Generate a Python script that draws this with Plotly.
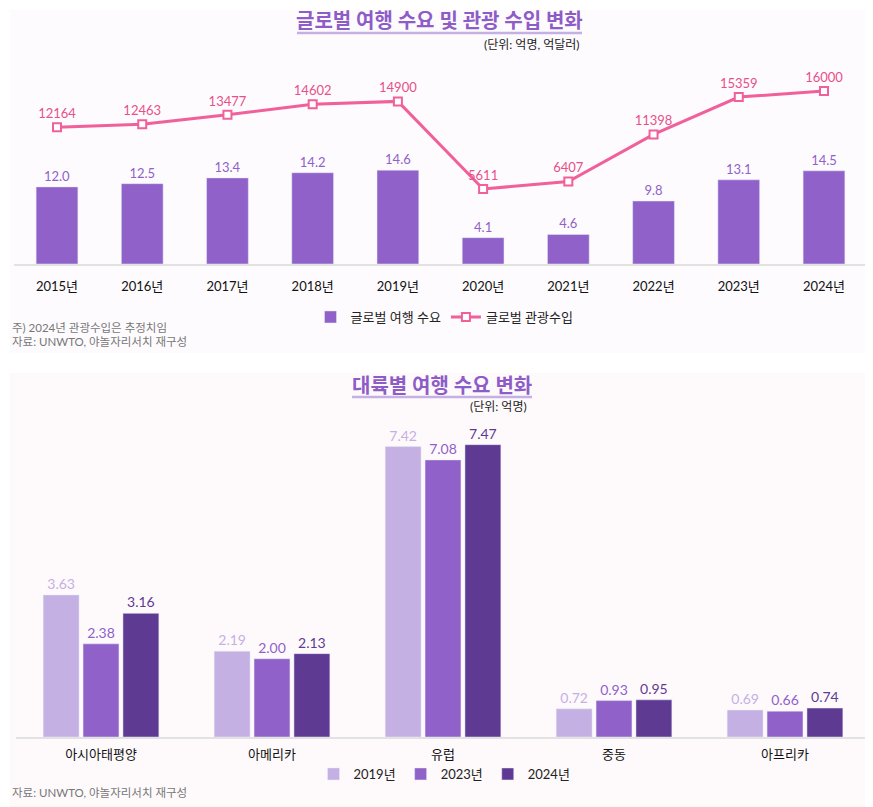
import plotly.graph_objects as go

years = ['2015년', '2016년', '2017년', '2018년', '2019년',
         '2020년', '2021년', '2022년', '2023년', '2024년']
demand = [12.0, 12.5, 13.4, 14.2, 14.6, 4.1, 4.6, 9.8, 13.1, 14.5]
receipts = [12164, 12463, 13477, 14602, 14900, 5611, 6407, 11398, 15359, 16000]

regions = ['아시아태평양', '아메리카', '유럽', '중동', '아프리카']
series_names = ['2019년', '2023년', '2024년']
region_values = [
    [3.63, 2.19, 7.42, 0.72, 0.69],
    [2.38, 2.00, 7.08, 0.93, 0.66],
    [3.16, 2.13, 7.47, 0.95, 0.74],
]

W, H = 873, 807
OFF = 8  # page sits 8px in from the window edge
PURPLE = '#9061c9'
PINK = '#f0609a'
region_colors = ['#c5b0e3', '#9061c9', '#5e3a93']
FONT = 'Lato, Noto Sans CJK KR, sans-serif'


# helpers: screen pixel -> paper fraction
def px_x(v):
    return (v - OFF) / W


def px_y(v):
    return 1 - (v - OFF) / H


fig = go.Figure()

# top chart: bars + line on second y axis
fig.add_trace(go.Bar(
    x=years, y=demand, name='글로벌 여행 수요', marker_color=PURPLE,
    width=0.49,
    text=[f'{v:.1f}' for v in demand], textposition='outside',
    textfont=dict(color=PURPLE, size=13), cliponaxis=False,
    xaxis='x', yaxis='y', legend='legend'))
fig.add_trace(go.Scatter(
    x=years, y=receipts, name='글로벌 관광수입', mode='lines+markers+text',
    line=dict(color=PINK, width=3),
    marker=dict(symbol='square', size=8, color='white',
                line=dict(color=PINK, width=2)),
    text=[str(v) for v in receipts], textposition='top center',
    textfont=dict(color='#e8508a', size=13), cliponaxis=False,
    xaxis='x', yaxis='y2', legend='legend'))

# bottom chart: grouped bars
for name, vals, col in zip(series_names, region_values, region_colors):
    fig.add_trace(go.Bar(
        x=regions, y=vals, name=name, marker_color=col,
        text=[f'{v:.2f}' for v in vals], textposition='outside',
        textfont=dict(color=col, size=14), cliponaxis=False,
        xaxis='x2', yaxis='y3', legend='legend2'))

fig.update_layout(
    width=W, height=H,
    margin=dict(l=0, r=0, t=0, b=0),
    paper_bgcolor='white', plot_bgcolor='rgba(0,0,0,0)',
    font=dict(family=FONT, size=13, color='#222'),
    barmode='group', bargap=0.3, bargroupgap=0.1,
    xaxis=dict(domain=[px_x(14.4), px_x(866.6)], range=[-0.5, 9.5],
               showline=True, linecolor='#e2e2e2', linewidth=1.5, ticks='',
               ticklabelstandoff=10,
               tickfont=dict(size=13, color='#111')),
    yaxis=dict(domain=[px_y(264), px_y(50)], range=[0, 33.3],
               visible=False),
    yaxis2=dict(overlaying='y', range=[-2339, 20346], visible=False),
    xaxis2=dict(domain=[px_x(15.5), px_x(870.5)], range=[-0.5, 4.5],
                anchor='y3', showline=True,
                linecolor='#e2e2e2', linewidth=1.5, ticks='',
                ticklabelstandoff=5,
                tickfont=dict(size=13, color='#111')),
    yaxis3=dict(domain=[px_y(737), px_y(420)], range=[0, 8.1],
                anchor='x2', visible=False),
    legend=dict(orientation='h', x=0.5, xanchor='center',
                y=px_y(317), yanchor='middle',
                font=dict(size=13, color='#222'), bgcolor='rgba(0,0,0,0)'),
    legend2=dict(orientation='h', x=0.5, xanchor='center',
                 y=px_y(774), yanchor='middle',
                 font=dict(size=13, color='#222'), bgcolor='rgba(0,0,0,0)'),
)

# panel backgrounds
fig.add_shape(type='rect', xref='paper', yref='paper', layer='below',
              x0=px_x(10), x1=1, y0=px_y(353), y1=px_y(10),
              fillcolor='#fdfbfd', line_width=0)
fig.add_shape(type='rect', xref='paper', yref='paper', layer='below',
              x0=px_x(10), x1=1, y0=0, y1=px_y(373),
              fillcolor='#fefafc', line_width=0)

# title underlines
fig.add_shape(type='line', xref='paper', yref='paper',
              x0=px_x(297), x1=px_x(582), y0=px_y(33), y1=px_y(33),
              line=dict(color='#c5b0e3', width=2.5))
fig.add_shape(type='line', xref='paper', yref='paper',
              x0=px_x(352), x1=px_x(532), y0=px_y(397), y1=px_y(397),
              line=dict(color='#c5b0e3', width=2.5))

notes = [
    dict(text='<b>글로벌 여행 수요 및 관광 수입 변화</b>', x=px_x(439), y=px_y(20),
         xanchor='center', font=dict(size=20, color='#8e5cc7')),
    dict(text='(단위: 억명, 억달러)', x=px_x(582), y=px_y(44),
         xanchor='right', font=dict(size=12, color='#222')),
    dict(text='주) 2024년 관광수입은 추정치임', x=px_x(10), y=px_y(327),
         xanchor='left', font=dict(size=11.5, color='#777')),
    dict(text='자료: UNWTO, 야놀자리서치 재구성', x=px_x(10), y=px_y(342),
         xanchor='left', font=dict(size=11.5, color='#777')),
    dict(text='<b>대륙별 여행 수요 변화</b>', x=px_x(442), y=px_y(385),
         xanchor='center', font=dict(size=20, color='#8e5cc7')),
    dict(text='(단위: 억명)', x=px_x(529), y=px_y(406),
         xanchor='right', font=dict(size=12, color='#222')),
    dict(text='자료: UNWTO, 야놀자리서치 재구성', x=px_x(10), y=px_y(792),
         xanchor='left', font=dict(size=11.5, color='#777')),
]
for n in notes:
    fig.add_annotation(xref='paper', yref='paper', yanchor='middle',
                       showarrow=False, **n)

fig.write_html('out.html')
